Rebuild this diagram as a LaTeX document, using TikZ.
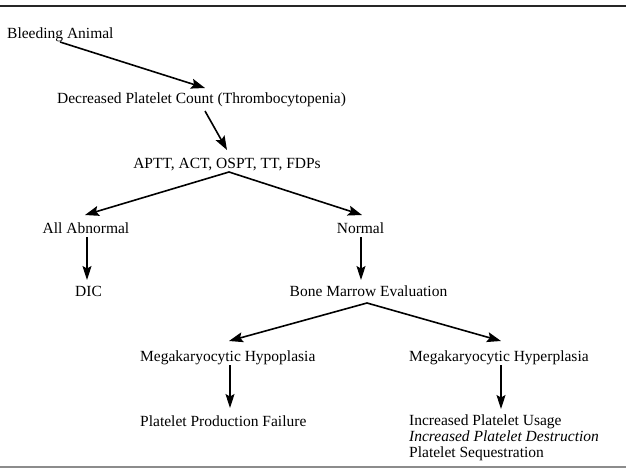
\documentclass[tikz,border=0pt]{standalone}
\usepackage{fontspec}
\setmainfont{Liberation Serif}
\usetikzlibrary{arrows.meta}
\begin{document}
\begin{tikzpicture}[x=1pt,y=-1pt,
  lbl/.style={inner sep=0pt, anchor=base, font=\fontsize{15.5}{16}\selectfont},
  lblw/.style={lbl, anchor=base west},
  arr/.style={-{Stealth[length=14pt,width=10pt,inset=2.5pt]}, line width=1.6pt},
  varr/.style={-{Stealth[length=14pt,width=9pt,inset=2.5pt]}, line width=1.1pt},
  toprule/.style={line width=2.2pt, draw=black!85},
  botrule/.style={line width=1.5pt, draw=black!45}]
\useasboundingbox (0,0) rectangle (626,474);
\draw[toprule] (0,6) -- (626,6);
\draw[botrule] (0,467) -- (626,467);

\node[lblw] (bleed) at (7,38) {Bleeding Animal};
\node[lbl] (dec) at (201.5,103) {Decreased Platelet Count (Thrombocytopenia)};
\node[lbl] (aptt) at (227,168) {APTT, ACT, OSPT, TT, FDPs};
\node[lbl] (abn) at (86,233) {All Abnormal};
\node[lbl] (norm) at (360.5,233) {Normal};
\node[lbl] (dic) at (88.5,296) {DIC};
\node[lbl] (bme) at (368.5,296) {Bone Marrow Evaluation};
\node[lblw] (hypo) at (140,361) {Megakaryocytic Hypoplasia};
\node[lblw] (hyper) at (409,361) {Megakaryocytic Hyperplasia};
\node[lblw] (ppf) at (140,426) {Platelet Production Failure};
\node[lblw] (inc1) at (409,425) {Increased Platelet Usage};
\node[lblw] (inc2) at (409,441) {\itshape Increased Platelet Destruction};
\node[lblw] (inc3) at (409,457) {Platelet Sequestration};

% connector end points, named
\coordinate (s1) at (60,42);   \coordinate (t1) at (205,88);
\coordinate (s2) at (205,111); \coordinate (t2) at (227,150);
\coordinate (s3) at (229,172); \coordinate (t3l) at (85,215); \coordinate (t3r) at (362,215);
\coordinate (s5) at (87,237);  \coordinate (t5) at (87,280);
\coordinate (s6) at (361,237); \coordinate (t6) at (361,280);
\coordinate (s7) at (367,303); \coordinate (t7l) at (229,341); \coordinate (t7r) at (501,341);
\coordinate (s9) at (230,365); \coordinate (t9) at (230,408);
\coordinate (s10) at (501,365); \coordinate (t10) at (501,409);

\draw[arr] (s1) -- (t1);
\draw[arr] (s2) -- (t2);
\draw[arr] (s3) -- (t3l);
\draw[arr] (s3) -- (t3r);
\draw[varr] (s5) -- (t5);
\draw[varr] (s6) -- (t6);
\draw[arr] (s7) -- (t7l);
\draw[arr] (s7) -- (t7r);
\draw[varr] (s9) -- (t9);
\draw[varr] (s10) -- (t10);
\end{tikzpicture}
\end{document}
